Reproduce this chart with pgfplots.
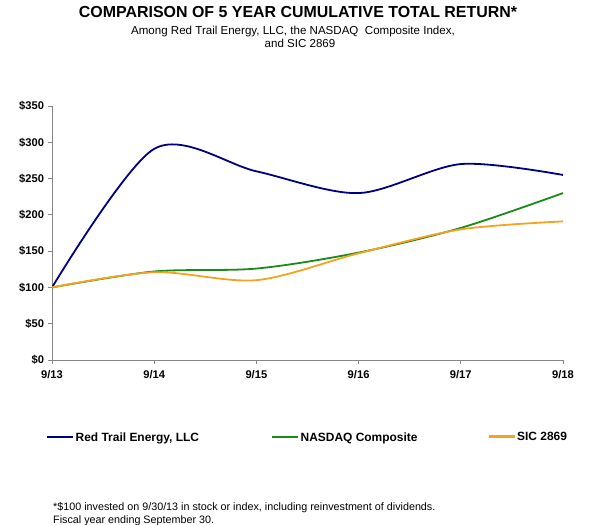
\documentclass[border=0pt]{standalone}
\usepackage{pgfplots}
\pgfplotsset{compat=1.18}
\usepackage{fontspec}
\setmainfont{Liberation Sans}
\definecolor{rtnavy}{HTML}{000080}
\definecolor{ndgreen}{HTML}{1A8A1A}
\definecolor{sicorange}{HTML}{F3A320}
\definecolor{axgray}{HTML}{868686}
\begin{document}
\begin{tikzpicture}
\path[use as bounding box] (0,0) rectangle (595bp,-525bp);
\node[font=\fontsize{16}{18}\selectfont\bfseries] at (298bp,-12.5bp) {COMPARISON OF 5 YEAR CUMULATIVE TOTAL RETURN*};
\node[font=\fontsize{11.6}{13}\selectfont] at (293bp,-31.5bp) {Among Red Trail Energy, LLC, the NASDAQ\ \ Composite Index,};
\node[font=\fontsize{11.6}{13}\selectfont] at (300bp,-43.5bp) {and SIC 2869};
\node[font=\fontsize{10.8}{12}\selectfont, anchor=west, inner sep=0pt] at (53bp,-507.5bp) {*\$100 invested on 9/30/13 in stock or index, including reinvestment of dividends.};
\node[font=\fontsize{10.8}{12}\selectfont, anchor=west, inner sep=0pt] at (53bp,-520.5bp) {Fiscal year ending September 30.};
\begin{axis}[
  at={(52bp,-360bp)}, anchor=south west,
  scale only axis, width=511bp, height=254bp,
  xmin=0, xmax=5, ymin=0, ymax=350,
  axis lines*=left,
  axis line style={axgray, line width=0.8bp},
  every tick/.style={axgray, line width=0.8bp},
  tick align=outside,
  major tick length=4bp,
  xtick={0,1,2,3,4,5},
  xticklabels={9/13,9/14,9/15,9/16,9/17,9/18},
  ytick={0,50,...,350},
  yticklabel={\$\pgfmathprintnumber{\tick}},
  /pgf/number format/assume math mode=true,
  tick label style={font=\fontsize{11.2}{13}\selectfont\bfseries},
  yticklabel style={xshift=-0.5bp},
  xticklabel style={yshift=-2.5bp},
  legend style={at={(-0.0098,-0.305)}, anchor=west, draw=none, inner sep=0pt,
    font=\fontsize{12}{14}\selectfont\bfseries,
    nodes={inner sep=0pt},
    /tikz/every odd column/.append style={column sep=0pt},
    /tikz/every even column/.append style={column sep=0pt}},
  legend columns=3,
  legend image code/.code={},
]
\addplot[rtnavy, line width=1.8bp, smooth] coordinates {(0,100) (1,291) (2,260) (3,230) (4,270) (5,255)};
\addlegendentry{\makebox[225bp][l]{\textcolor{rtnavy}{\rule[0.28em]{26bp}{2.2bp}}\hspace{2.5bp}Red Trail Energy, LLC}}
\addplot[ndgreen, line width=1.8bp, smooth] coordinates {(0,100) (1,122) (2,126) (3,148) (4,182) (5,230)};
\addlegendentry{\makebox[216.5bp][l]{\textcolor{ndgreen}{\rule[0.28em]{26bp}{2.2bp}}\hspace{2.5bp}NASDAQ Composite}}
\addplot[sicorange, line width=1.8bp, smooth] coordinates {(0,100) (1,121) (2,110) (3,147) (4,180) (5,191)};
\addlegendentry{\textcolor{sicorange}{\rule[0.28em]{26bp}{2.2bp}}\hspace{2.5bp}SIC 2869}
\end{axis}
\end{tikzpicture}
\end{document}
